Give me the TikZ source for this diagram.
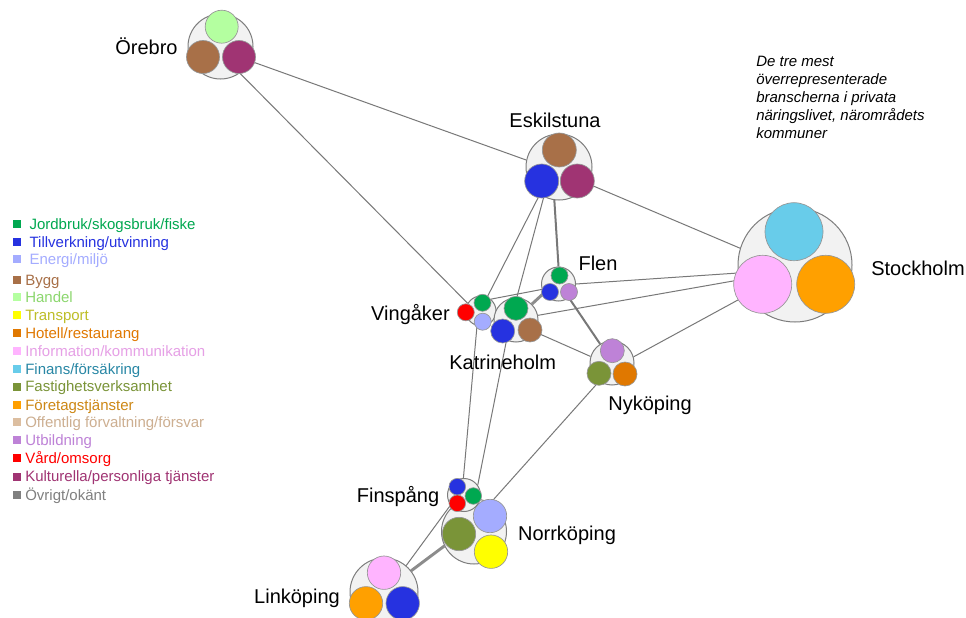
\documentclass[tikz,border=0pt]{standalone}
\usepackage{fontspec}
\setmainfont{Liberation Sans}
\usetikzlibrary{backgrounds}
\definecolor{cJord}{RGB}{0,168,80}
\definecolor{cTill}{RGB}{38,50,224}
\definecolor{cEner}{RGB}{164,172,255}
\definecolor{cBygg}{RGB}{168,112,72}
\definecolor{cHand}{RGB}{180,255,160}
\definecolor{tHand}{RGB}{140,215,110}
\definecolor{cTrans}{RGB}{255,255,0}
\definecolor{tTrans}{RGB}{190,190,40}
\definecolor{cHot}{RGB}{224,120,0}
\definecolor{cInfo}{RGB}{255,180,255}
\definecolor{tInfo}{RGB}{230,160,230}
\definecolor{cFin}{RGB}{104,204,234}
\definecolor{tFin}{RGB}{40,135,165}
\definecolor{cFast}{RGB}{122,148,56}
\definecolor{cForet}{RGB}{255,160,0}
\definecolor{tForet}{RGB}{205,135,20}
\definecolor{cOff}{RGB}{220,190,160}
\definecolor{tOff}{RGB}{205,175,145}
\definecolor{cUtb}{RGB}{190,130,215}
\definecolor{cVard}{RGB}{255,0,0}
\definecolor{cKult}{RGB}{160,52,115}
\definecolor{cOvr}{RGB}{128,128,128}
\definecolor{hubline}{RGB}{125,125,125}
\definecolor{hubfill}{RGB}{242,242,242}
\definecolor{dotline}{RGB}{150,150,150}
\definecolor{edgecol}{RGB}{120,120,120}
\begin{document}
\begin{tikzpicture}[x=0.75pt,y=-0.75pt,
  hub/.style={circle, draw=hubline, fill=hubfill, line width=0.75pt, inner sep=0pt, minimum size=#1},
  dot/.style={draw=dotline, line width=0.5pt, fill=#1},
  thinedge/.style={draw=edgecol, line width=0.75pt},
  midedge/.style={draw=edgecol, line width=1.5pt},
  thickedge/.style={draw=edgecol!85, line width=2.2pt},
  city/.style={anchor=base, inner sep=0pt, font=\fontsize{15}{18}\selectfont},
  legsq/.style={inner sep=0pt, minimum size=6pt, fill=#1},
  legtext/.style={anchor=base west, inner sep=0pt, font=\fontsize{11.25}{13.5}\selectfont},
  anno/.style={anchor=base west, inner sep=0pt, font=\fontsize{11.25}{13.5}\selectfont\itshape}]
\useasboundingbox (0,0) rectangle (966,617);
\clip (0,0) rectangle (966,617);
\begin{pgfonlayer}{background}
\fill[white] (0,0) rectangle (966,617);
\end{pgfonlayer}

% Örebro
\node[hub=48.75pt] (O) at (220.5,46.5) {};
\draw[dot=cHand] (221.7,26.7) circle[radius=16.5];
\draw[dot=cBygg] (203,57) circle[radius=16.5];
\draw[dot=cKult] (239,57) circle[radius=16.5];
% Eskilstuna
\node[hub=49.5pt] (E) at (559,167) {};
\draw[dot=cBygg] (559.3,150) circle[radius=17];
\draw[dot=cTill] (541.7,181) circle[radius=17];
\draw[dot=cKult] (577.3,181) circle[radius=17];
% Stockholm
\node[hub=85.5pt] (S) at (795,265) {};
\draw[dot=cFin] (794,231.7) circle[radius=29];
\draw[dot=cInfo] (762.7,284.3) circle[radius=29];
\draw[dot=cForet] (825.7,284.3) circle[radius=29];
% Flen
\node[hub=25.5pt] (F) at (558.5,284) {};
\draw[dot=cJord] (559.5,275.5) circle[radius=8.5];
\draw[dot=cTill] (550,292) circle[radius=8.5];
\draw[dot=cUtb] (569,292) circle[radius=8.5];
% Vingåker
\node[hub=22.5pt] (V) at (481,311) {};
\draw[dot=cJord] (482.5,302.8) circle[radius=8.5];
\draw[dot=cVard] (465.8,312.3) circle[radius=8.5];
\draw[dot=cEner] (482.7,321.7) circle[radius=8.5];
% Katrineholm
\node[hub=33pt] (K) at (516,320) {};
\draw[dot=cJord] (516,308.3) circle[radius=12];
\draw[dot=cTill] (502.7,331) circle[radius=12];
\draw[dot=cBygg] (530,330) circle[radius=12];
% Nyköping
\node[hub=33pt] (N) at (612,363) {};
\draw[dot=cUtb] (612.3,350.7) circle[radius=12];
\draw[dot=cFast] (599,373.3) circle[radius=12];
\draw[dot=cHot] (625,374) circle[radius=12];
% Norrköping
\node[hub=48.75pt] (No) at (474,531.5) {};
\draw[dot=cEner] (490,516) circle[radius=16.7];
\draw[dot=cFast] (459,534) circle[radius=16.7];
\draw[dot=cTrans] (491,551.7) circle[radius=16.7];
% Finspång
\node[hub=24.75pt] (Fi) at (464,495) {};
\draw[dot=cTill] (457.3,486.7) circle[radius=8.3];
\draw[dot=cJord] (473.3,496) circle[radius=8.3];
\draw[dot=cVard] (457.3,503.3) circle[radius=8.3];
% Linköping
\node[hub=51pt] (L) at (384,592) {};
\draw[dot=cInfo] (384,572.7) circle[radius=16.7];
\draw[dot=cForet] (366,603.3) circle[radius=16.7];
\draw[dot=cTill] (402.7,603.3) circle[radius=16.7];

% edges (behind)
\begin{pgfonlayer}{background}
\draw[thinedge] (O.-26) -- (E.168);
\draw[thinedge] (O.-54) -- (V.150);
\draw[thinedge] (E.-30) -- (S.163);
\draw[thinedge] (E.-125) -- (V.66);
\draw[thinedge] (E.-117) -- (K.88);
\draw[midedge] (E.-98) -- (F.90);
\draw[thinedge] (V.50) -- (F.198);
\draw[thickedge] (K.45) -- (F.212);
\draw[thinedge] (K.12) -- (S.195);
\draw[thinedge] (F.0) -- (S.188);
\draw[midedge] (F.-53) -- (N.122);
\draw[thinedge] (K.-32) -- (N.163);
\draw[thinedge] (N.16) -- (S.212);
\draw[thinedge] (N.-125) -- (No.60);
\draw[thinedge] (V.-105) -- (Fi.92);
\draw[thinedge] (K.-115) -- (Fi.36);
\draw[thinedge] (Fi.217) -- (L.50);
\draw[thickedge] (No.206) -- (L.38);
\end{pgfonlayer}

% city labels
\node[city] (lO) at (146.5,55) {Örebro};
\node[city] (lE) at (555,127.3) {Eskilstuna};
\node[city] (lS) at (918,275) {Stockholm};
\node[city] (lF) at (598,270.5) {Flen};
\node[city] (lV) at (410.5,320) {Vingåker};
\node[city] (lK) at (502.7,369.3) {Katrineholm};
\node[city] (lN) at (650,410.7) {Nyköping};
\node[city] (lFi) at (398,502.7) {Finspång};
\node[city] (lNo) at (567,540) {Norrköping};
\node[city] (lL) at (297,603.3) {Linköping};

% annotation
\node[anno] (a1) at (756,67) {De tre mest};
\node[anno] (a2) at (756,84.8) {överrepresenterade};
\node[anno] (a3) at (756,102.6) {branscherna i privata};
\node[anno] (a4) at (756,120.4) {näringslivet, närområdets};
\node[anno] (a5) at (756,138.2) {kommuner};

% legend
\node[legsq=cJord] (s1) at (17.2,224) {};
\node[legtext, text=cJord] (t1) at (29.3,229) {Jordbruk/skogsbruk/fiske};
\node[legsq=cTill] (s2) at (17.2,242.3) {};
\node[legtext, text=cTill] (t2) at (29.3,247.3) {Tillverkning/utvinning};
\node[legsq=cEner] (s3) at (17.2,259.3) {};
\node[legtext, text=cEner] (t3) at (29.3,264.3) {Energi/miljö};
\node[legsq=cBygg] (s4) at (16.7,280) {};
\node[legtext, text=cBygg] (t4) at (25,285) {Bygg};
\node[legsq=cHand] (s5) at (16.7,297.3) {};
\node[legtext, text=tHand] (t5) at (25,302.3) {Handel};
\node[legsq=cTrans] (s6) at (16.7,315) {};
\node[legtext, text=tTrans] (t6) at (25,320) {Transport};
\node[legsq=cHot] (s7) at (16.7,333) {};
\node[legtext, text=cHot] (t7) at (25,338) {Hotell/restaurang};
\node[legsq=cInfo] (s8) at (16.7,351) {};
\node[legtext, text=tInfo] (t8) at (25,356) {Information/kommunikation};
\node[legsq=cFin] (s9) at (16.7,369) {};
\node[legtext, text=tFin] (t9) at (25,374) {Finans/försäkring};
\node[legsq=cFast] (s10) at (16.7,386.7) {};
\node[legtext, text=cFast] (t10) at (25,391.7) {Fastighetsverksamhet};
\node[legsq=cForet] (s11) at (16.7,405) {};
\node[legtext, text=tForet] (t11) at (25,410) {Företagstjänster};
\node[legsq=cOff] (s12) at (16.7,422.3) {};
\node[legtext, text=tOff] (t12) at (25,427.3) {Offentlig förvaltning/försvar};
\node[legsq=cUtb] (s13) at (16.7,440.3) {};
\node[legtext, text=cUtb] (t13) at (25,445.3) {Utbildning};
\node[legsq=cVard] (s14) at (16.7,458.3) {};
\node[legtext, text=cVard] (t14) at (25,463.3) {Vård/omsorg};
\node[legsq=cKult] (s15) at (16.7,476.7) {};
\node[legtext, text=cKult] (t15) at (25,481.7) {Kulturella/personliga tjänster};
\node[legsq=cOvr] (s16) at (16.7,495) {};
\node[legtext, text=cOvr] (t16) at (25,500) {Övrigt/okänt};
\end{tikzpicture}
\end{document}
